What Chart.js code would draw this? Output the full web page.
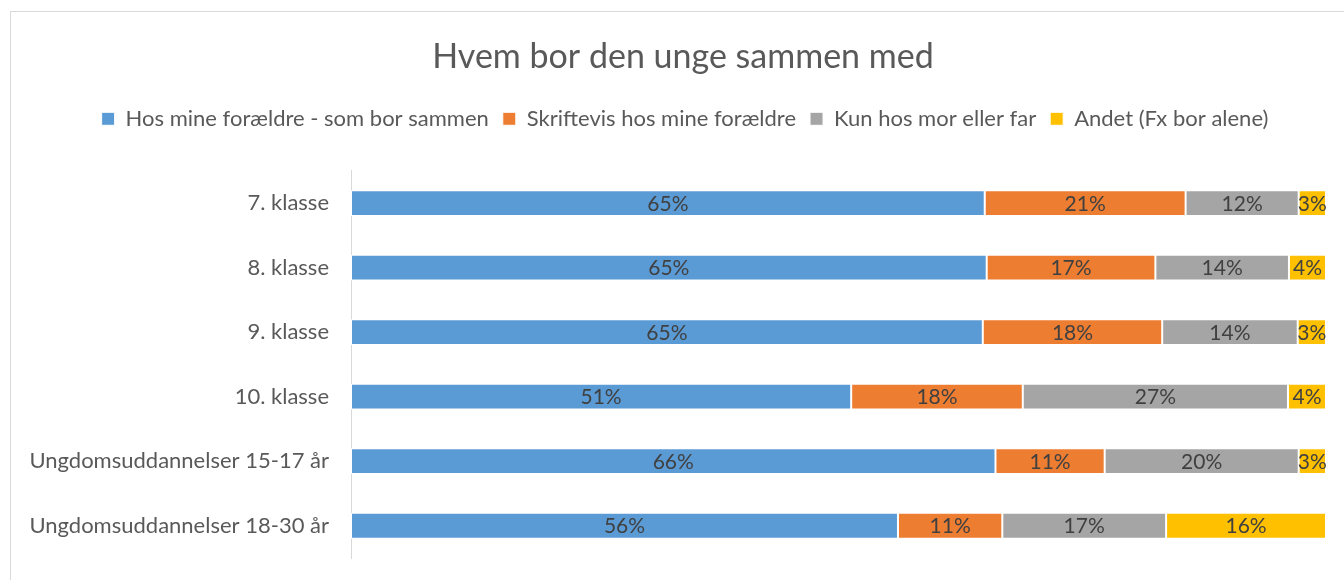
<!DOCTYPE html>
<html>
<head>
<meta charset="utf-8">
<script src="https://cdn.jsdelivr.net/npm/chart.js@4"></script>
<style>
  html, body { margin: 0; padding: 0; background: #fff; }
  #wrap { position: relative; width: 1344px; height: 580px; overflow: hidden; }
  #frame { position: absolute; left: 10px; top: 11px; width: 1400px; height: 600px; border: 1px solid #d9d9d9; box-sizing: border-box; }
  canvas { position: absolute; left: 0; top: 0; }
</style>
</head>
<body>
<div id="wrap">
  <div id="frame"></div>
  <canvas id="chart" width="1344" height="580"></canvas>
</div>
<script>
const categories = ['7. klasse', '8. klasse', '9. klasse', '10. klasse', 'Ungdomsuddannelser 15-17 år', 'Ungdomsuddannelser 18-30 år'];
const seriesNames = ['Hos mine forældre - som bor sammen', 'Skriftevis hos mine forældre', 'Kun hos mor eller far', 'Andet (Fx bor alene)'];
const hosBegge = [65.0, 65.2, 64.8, 51.3, 66.1, 56.1];
const skiftevis = [20.6, 17.3, 18.4, 17.6, 11.2, 10.7];
const kunEn = [11.6, 13.7, 13.9, 27.2, 19.9, 16.8];
const andet = [2.8, 3.8, 2.9, 3.9, 2.8, 16.4];
const colors = ['#5b9bd5', '#ed7d31', '#a5a5a5', '#ffc000'];

const FONT = 'Lato, "Open Sans", sans-serif';

// tegner procent-tal midt i hvert segment
const barLabels = {
    id: 'barLabels',
    afterDatasetsDraw(chart) {
        const ctx = chart.ctx;
        ctx.save();
        ctx.font = '21px ' + FONT;
        ctx.fillStyle = '#404040';
        ctx.textAlign = 'center';
        ctx.textBaseline = 'middle';
        chart.data.datasets.forEach((ds, i) => {
            chart.getDatasetMeta(i).data.forEach((bar, j) => {
                const p = bar.getCenterPoint();
                ctx.fillText(Math.round(ds.data[j]) + '%', p.x, p.y + 1);
            });
        });
        ctx.restore();
    }
};

// mere luft under forklaringen, og titel/forklaring lidt mod hoejre
const headerLayout = {
    id: 'headerLayout',
    afterInit(chart) {
        const lg = chart.legend;
        const fit = lg.fit;
        lg.fit = function() { fit.call(this); this.height = 77; };
    },
    afterLayout(chart) {
        chart.titleBlock.left += 40;
        chart.legend.left += 44;
    }
};

const datasets = [hosBegge, skiftevis, kunEn, andet].map((d, i) => ({
    label: seriesNames[i],
    data: d,
    backgroundColor: colors[i],
    borderColor: '#ffffff',
    borderWidth: 1,
    borderSkipped: false,
    barPercentage: 0.4,
    categoryPercentage: 1
}));

new Chart(document.getElementById('chart'), {
    type: 'bar',
    data: { labels: categories, datasets: datasets },
    plugins: [barLabels, headerLayout],
    options: {
        indexAxis: 'y',
        responsive: false,
        animation: false,
        layout: { padding: { top: 0, right: 18, bottom: 22, left: 0 } },
        plugins: {
            title: {
                display: true,
                text: 'Hvem bor den unge sammen med',
                color: '#595959',
                font: { family: FONT, size: 34, weight: 'normal' },
                padding: { top: 37, bottom: 16 }
            },
            legend: {
                position: 'top',
                labels: {
                    color: '#595959',
                    font: { family: FONT, size: 22 },
                    boxWidth: 13,
                    boxHeight: 13,
                    padding: 14
                }
            },
            tooltip: { enabled: false }
        },
        scales: {
            x: {
                stacked: true,
                min: 0,
                max: 100,
                display: false
            },
            y: {
                stacked: true,
                grid: { display: false },
                border: { display: true, color: '#d9d9d9', width: 1 },
                ticks: { color: '#595959', font: { family: FONT, size: 22 }, padding: 14 },
                afterFit(scale) {
                    scale.width = 351;
                    scale.paddingTop = 0;
                    scale.paddingBottom = 0;
                }
            }
        }
    }
});
</script>
</body>
</html>
